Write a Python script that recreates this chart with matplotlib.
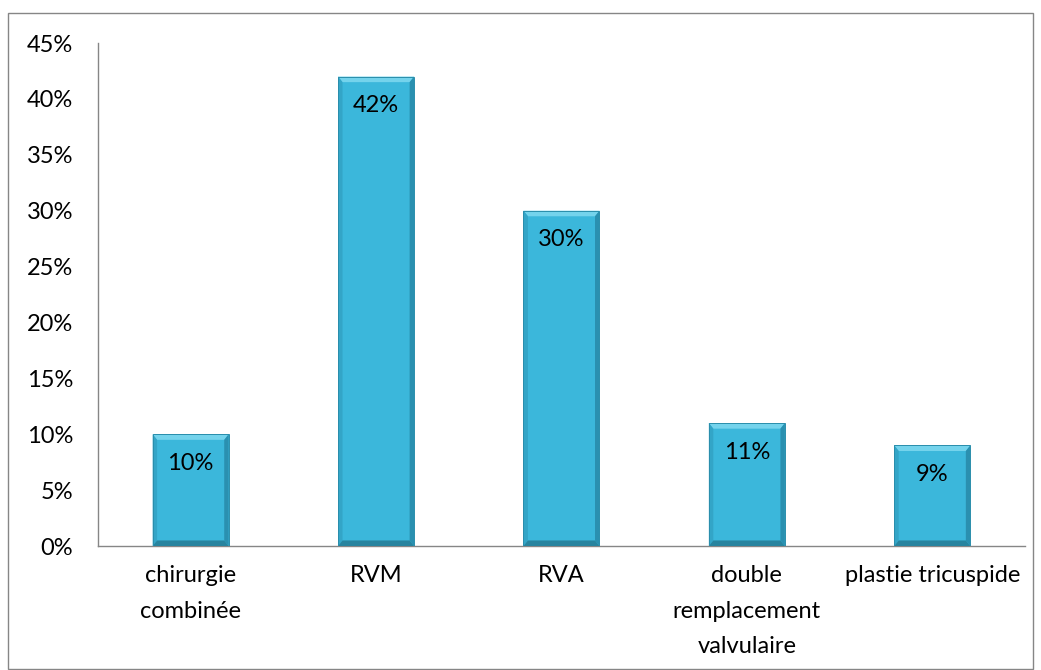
import matplotlib.pyplot as plt
from matplotlib.patches import Polygon, Rectangle
from matplotlib.ticker import PercentFormatter

categories = ["chirurgie\ncombinée", "RVM", "RVA",
              "double\nremplacement\nvalvulaire", "plastie tricuspide"]
values = [10, 42, 30, 11, 9]
value_labels = ["10%", "42%", "30%", "11%", "9%"]
yticks = [0, 5, 10, 15, 20, 25, 30, 35, 40, 45]

plt.rcParams['font.family'] = ['Lato', 'DejaVu Sans']
fs = 17

fig = plt.figure(figsize=(10.41, 6.70), dpi=100)
ax = fig.add_axes([0.0941, 0.185, 0.8905, 0.7508])

width = 0.41
x = range(len(categories))
bars = ax.bar(x, values, width=width, color="#3bb7db", edgecolor="none",
              zorder=2)

# bevel on each bar: light top, shaded sides and bottom
dx = 0.024
dy = 0.5
for b in bars:
    x0, x1 = b.get_x(), b.get_x() + b.get_width()
    h = b.get_height()
    top = Polygon([(x0, h), (x1, h), (x1 - dx, h - dy), (x0 + dx, h - dy)],
                  closed=True, facecolor="#74d3ec", edgecolor="none", zorder=3)
    left = Polygon([(x0, 0), (x0, h), (x0 + dx, h - dy), (x0 + dx, dy)],
                   closed=True, facecolor="#33a5c7", edgecolor="none", zorder=3)
    right = Polygon([(x1, 0), (x1, h), (x1 - dx, h - dy), (x1 - dx, dy)],
                    closed=True, facecolor="#2a90b0", edgecolor="none", zorder=3)
    bottom = Polygon([(x0, 0), (x1, 0), (x1 - dx, dy), (x0 + dx, dy)],
                     closed=True, facecolor="#27849f", edgecolor="none", zorder=3)
    for p in (top, left, right, bottom):
        ax.add_patch(p)
    ax.add_patch(Rectangle((x0, 0), x1 - x0, h, fill=False,
                           edgecolor="#2a8eac", linewidth=0.7, zorder=4))

for b, lab in zip(bars, value_labels):
    ax.annotate(lab, (b.get_x() + b.get_width() / 2, b.get_height()),
                xytext=(0, -21), textcoords="offset points",
                ha="center", va="center", fontsize=fs, color="black", zorder=5)

ax.set_xlim(-0.5, len(categories) - 0.5)
ax.set_ylim(0, 45)
ax.set_yticks(yticks)
ax.yaxis.set_major_formatter(PercentFormatter(decimals=0))
ax.set_xticks(list(x))
ax.set_xticklabels(categories, fontsize=fs, linespacing=1.85)
ax.tick_params(axis="both", length=0, labelsize=fs)
ax.tick_params(axis="y", pad=18)
ax.tick_params(axis="x", pad=14)

for s in ("top", "right"):
    ax.spines[s].set_visible(False)
for s in ("left", "bottom"):
    ax.spines[s].set_color("#868686")
    ax.spines[s].set_linewidth(1.0)

# chart area frame
fig.patches.append(Rectangle((8 / 1041, 1 / 670), 1025 / 1041, 656 / 670,
                             transform=fig.transFigure, fill=False,
                             edgecolor="#868686", linewidth=1.0))

fig.savefig("out.png", dpi=100)
